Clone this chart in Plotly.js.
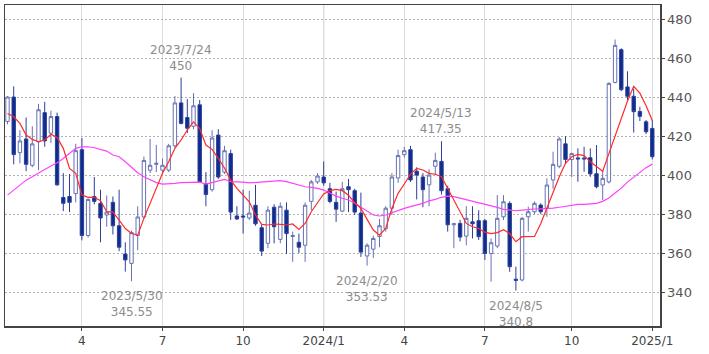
<!DOCTYPE html>
<html>
<head>
<meta charset="utf-8">
<script src="https://cdn.plot.ly/plotly-3.0.1.min.js"></script>
<style>html,body{margin:0;padding:0;background:#fff;}#chart{width:709px;height:354px;}</style>
</head>
<body>
<div id="chart"></div>
<script>
const dates = [
"2023-01-09","2023-01-16","2023-01-23","2023-01-30","2023-02-06","2023-02-13","2023-02-20","2023-02-27",
"2023-03-06","2023-03-13","2023-03-20","2023-03-27","2023-04-03","2023-04-10","2023-04-17","2023-04-24",
"2023-05-01","2023-05-08","2023-05-15","2023-05-22","2023-05-29","2023-06-05","2023-06-12","2023-06-19","2023-06-26",
"2023-07-03","2023-07-10","2023-07-17","2023-07-24","2023-07-31","2023-08-07","2023-08-14","2023-08-21","2023-08-28",
"2023-09-04","2023-09-11","2023-09-18","2023-09-25","2023-10-02","2023-10-09","2023-10-16","2023-10-23","2023-10-30",
"2023-11-06","2023-11-13","2023-11-20","2023-11-27","2023-12-04","2023-12-11","2023-12-18","2023-12-25",
"2024-01-01","2024-01-08","2024-01-15","2024-01-22","2024-01-29","2024-02-05","2024-02-12","2024-02-19","2024-02-26",
"2024-03-04","2024-03-11","2024-03-18","2024-03-25","2024-04-01","2024-04-08","2024-04-15","2024-04-22","2024-04-29",
"2024-05-06","2024-05-13","2024-05-20","2024-05-27","2024-06-03","2024-06-10","2024-06-17","2024-06-24",
"2024-07-01","2024-07-08","2024-07-15","2024-07-22","2024-07-29","2024-08-05","2024-08-12","2024-08-19","2024-08-26",
"2024-09-02","2024-09-09","2024-09-16","2024-09-23","2024-09-30","2024-10-07","2024-10-14","2024-10-21","2024-10-28",
"2024-11-04","2024-11-11","2024-11-18","2024-11-25","2024-12-02","2024-12-09","2024-12-16","2024-12-23","2024-12-30","2025-01-06"];

const openP = [427.5,440,411.5,418.5,405,417,432,421.5,430,388.5,389,390.5,413,369,389,385.5,379.5,386,374,359.5,354.7,369,378.5,402.5,405.5,402.5,402.5,415,437,429.5,425,436,395.5,392.5,420.5,401.5,411,379,379,378,384.5,373,365,383.5,367,382,368.5,365.5,364,386.5,396.5,399,393,386,381.5,394,392,380.5,358.5,362,368.5,372.5,383,398.5,410.5,413,402,399,395,404.5,407,393,374.5,375.2,368.7,376,376.6,376.6,359.8,363.6,378.6,385.5,346.6,346.2,378.6,381.2,384.6,382.9,397.5,404.5,416,408,408.8,408.7,408.9,400.7,394.9,396.5,447.5,464.3,445.2,440.4,432.6,427.3,423.9];
const highP = [440.5,445.5,423,429.5,425,436.5,437.5,433,432,401,400.5,416,419,388,399,392.5,389.5,389,392.5,365.5,371.5,384,409.5,418.5,415.5,408.5,416,440.5,450,439,442,438.5,401.5,423,423.5,415,413,384,392.5,392,395,374.5,384,385,386,386,371,370,386,397.5,401,407,396,391.5,396.5,398,393,391,365,369,377.5,384,401,413,414.5,415,404,401,403,411.5,417.35,394.5,375.5,377,384,384,382,377.5,367.5,389.7,389.7,386.5,353,378.5,383.8,386.5,385.5,398.3,412,419.5,420,411.5,413.7,414.5,413.7,415.4,402.6,447.5,469.5,465,453.2,444.4,435,428.2,428.2];
const lowP = [426,405.5,406,402,404,402.5,414.5,416.5,394.5,381.5,381,386,366.5,368,385,365.5,373.5,369.5,361,350.5,345.55,361.5,377.5,401,401.5,401,401.5,414,426,421.5,423.5,396,384,391.5,398,400.5,377,377,370,377,374,358.5,362.5,365,365,359.5,355.5,360,355.5,382,395.5,394.5,385.5,376,381,381,379.5,358,353.53,357.5,363,371,379.5,396,409,396.5,387.5,383.5,384,400,390,371,362.5,366,364,367.5,366.7,356.4,345.3,362.5,376.9,350.4,340.8,345.5,371,380,380,378.6,393,403.5,405.5,399,396.6,401.7,399.1,393.2,387.2,395.7,447,443,438.5,421.8,427.7,421,408];
const closeP = [440,410.5,417.5,405.5,416,433.5,417.5,430,395,385.5,386,412.5,369,387.5,386.5,378,381,374,363,356.5,370.5,378.5,407.5,405,406,405,415,437,426.5,424,435.5,396.5,390,419,399,412.5,381,377.5,378.5,380.5,375,361,382,373.5,384,370,369,363,384.5,396.5,399.5,396,386.5,382.5,393,392.5,381,360.5,364,367.5,374,383,399,410,412.5,397.5,400,392.5,400,407.5,392,374.5,375,368.2,377.8,375,368.4,359.8,365.3,377.8,386.3,353,346,377.8,381.2,385.5,381.2,394.9,405.5,418.5,408,411,408.3,408.3,400.6,394,398.3,447,466.5,443.8,440.4,432.5,430.1,422.2,409.4];

const ma13 = [431.6,429.9,426.5,420.5,418.3,417.1,418,420.9,419.3,413.7,403.4,400.9,389.7,388.6,388.6,386.8,381.2,381,376.9,372.6,370,369.2,377.8,385.5,393.2,400.9,406.8,413.7,418,423.1,427.3,423.9,415.4,413.2,408.5,403.6,397.4,393.2,389.7,386.3,379.5,374.7,374.4,374.9,374.7,374.4,374.9,372.1,375.2,381.2,385.8,390.3,392,392.7,392,389.7,385.8,382.9,377.3,371.8,369.2,372.6,382.9,390.6,395.4,400.5,403.4,402.6,400.9,400.4,399.1,393.2,387.2,381.2,375.2,373.5,372.6,370.7,370,370.5,372,370,365.8,368.4,368.4,368.5,375,383,391.5,399.1,406,409.4,410.6,410,406.8,404.3,402,411,420,429,438,445.5,442,435.5,428];
const ma26 = [389.7,392.3,394.9,397.4,399.1,401.2,402.9,404.6,406.3,408.5,411.1,413.7,414.5,414.5,414,413.3,412.3,410.3,409.4,406.8,403.9,401.2,399.1,397.4,396.1,395.4,395.4,395.7,396.1,396.1,396.4,396.4,395.4,396.1,397.1,397.8,396.6,396.6,396.4,396,396.2,396.4,396.6,396.6,397.1,396.6,395.7,394.9,394,393.7,393.2,392.3,390.6,389.2,388.1,387.2,385.5,383.4,381.2,379.5,379,379.5,380.7,382,382.9,383.8,384.6,385.5,386.8,387.5,388.6,389.2,388.9,388.1,387.5,386.8,385.8,385.1,384.1,383.4,382.4,382,381.7,382,382.4,382.6,382.7,382.7,383,383.5,384,384.5,385,385,385.3,385.5,386.5,388.2,390.8,393.3,396.4,399,401.5,403.8,405.6];

const tickDates = ["2023-04-03","2023-07-03","2023-10-02","2024-01-01","2024-04-01","2024-07-01","2024-10-07","2025-01-06"];
const tickLabels = ["4","7","10","2024/1","4","7","10","2025/1"];
const yTicks = [340,360,380,400,420,440,460,480];

const markDates = ["2023-07-24","2023-05-29","2024-02-19","2024-05-13","2024-08-05"];
const markLabels = ["2023/7/24<br>450","2023/5/30<br>345.55","2024/2/20<br>353.53","2024/5/13<br>417.35","2024/8/5<br>340.8"];
const markValues = [450,345.55,353.53,417.35,340.8];
const markIsHigh = [true,false,false,true,false];

const traces = [
  {type:'scatter', mode:'lines', x:dates, y:ma26, line:{color:'#ff40ff', width:1.2}, hoverinfo:'skip'},
  {type:'scatter', mode:'lines', x:dates, y:ma13, line:{color:'#ff2a2a', width:1.2}, hoverinfo:'skip'},
  {type:'candlestick', x:dates, open:openP, high:highP, low:lowP, close:closeP,
    increasing:{line:{color:'#6671b3', width:1}, fillcolor:'#ffffff'},
    decreasing:{line:{color:'#2b3f97', width:1}, fillcolor:'#0e2c8e'},
    whiskerwidth:0}
];

const annotations = markDates.map((d,i)=>({
  x:d, y:markValues[i], text:markLabels[i], showarrow:false,
  xanchor:'center', yanchor: markIsHigh[i] ? 'bottom' : 'top',
  yshift: markIsHigh[i] ? 3 : -6,
  font:{family:'DejaVu Sans, Verdana, sans-serif', size:12, color:'#8c8c8c'}
}));

const layout = {
  width:709, height:354,
  margin:{l:5, r:49, t:5, b:28},
  paper_bgcolor:'#ffffff', plot_bgcolor:'#ffffff',
  showlegend:false,
  boxgap:0.22,
  font:{family:'DejaVu Sans, Verdana, sans-serif', size:12, color:'#444'},
  xaxis:{
    type:'date', range:['2023-01-06 04:00','2025-01-14 17:00'],
    rangeslider:{visible:false},
    tickmode:'array', tickvals:tickDates, ticktext:tickLabels,
    showgrid:true, gridcolor:'#dddddd', gridwidth:1,
    showline:true, linecolor:'#444', linewidth:1.5, mirror:true,
    ticks:'outside', ticklen:3, tickcolor:'#444',
    tickfont:{size:12, color:'#444'}, zeroline:false
  },
  yaxis:{
    side:'right', range:[322.6,487.2],
    tickmode:'array', tickvals:yTicks,
    showgrid:true, gridcolor:'#b0b0b0', griddash:'2px,2px', gridwidth:1,
    showline:true, linecolor:'#444', linewidth:1.5, mirror:true,
    ticks:'outside', ticklen:3, tickcolor:'#444',
    tickfont:{size:13, color:'#555'}, zeroline:false
  },
  shapes:[{type:'line', xref:'x', yref:'paper', x0:'2024-01-01', x1:'2024-01-01', y0:0, y1:1,
    line:{color:'#a8a8a8', width:1}, layer:'below'}],
  annotations:annotations
};

Plotly.newPlot('chart', traces, layout, {displayModeBar:false, staticPlot:true});
</script>
</body>
</html>
